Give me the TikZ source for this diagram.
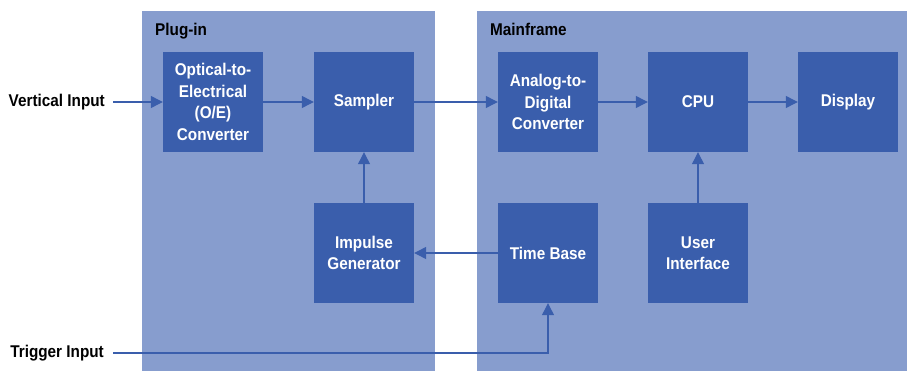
\documentclass[tikz,border=0pt]{standalone}
\usepackage{fontspec}
\setmainfont{Liberation Sans}[FakeStretch=0.9]
\usetikzlibrary{arrows.meta}
\definecolor{panelc}{RGB}{135,157,206}
\definecolor{boxc}{RGB}{58,94,172}
\tikzset{
  blk/.style={draw=none,fill=boxc,minimum width=100pt,minimum height=100pt,inner sep=0pt,
    text=white,font=\bfseries\fontsize{17}{21.5}\selectfont,align=center},
  lbl/.style={font=\bfseries\fontsize{17}{21.5}\selectfont,text=black,inner sep=0pt},
  conn/.style={draw=boxc,line width=1.2pt,-{Triangle[length=12pt,width=12pt]}}
}
\begin{document}
\begin{tikzpicture}[x=1pt,y=-1pt]
\useasboundingbox (0,0) rectangle (907,371);
\fill[white] (0,0) rectangle (907,371);
% panels
\fill[panelc] (142,11) rectangle (435,371);
\fill[panelc] (477,11) rectangle (907,371);
\node[lbl,anchor=base west] (plug) at (155,36) {Plug-in};
\node[lbl,anchor=base west] (main) at (490,36) {Mainframe};
% blocks
\node[blk] (oe) at (213,102) {Optical-to-\\Electrical\\(O/E)\\Converter};
\node[blk] (sam) at (364,102) {Sampler};
\node[blk] (adc) at (548,102) {Analog-to-\\Digital\\Converter};
\node[blk] (cpu) at (698,102) {CPU};
\node[blk] (dis) at (848,102) {Display};
\node[blk] (imp) at (364,253) {Impulse\\Generator};
\node[blk] (tb) at (548,253) {Time Base};
\node[blk] (ui) at (698,253) {User\\Interface};
% inputs
\node[lbl,anchor=east,inner xsep=8pt] (vi) at (113,102) {Vertical Input};
\node[lbl,anchor=east,inner xsep=9pt] (ti) at (113,353) {Trigger Input};
% connectors
\draw[conn] (vi.east) -- (oe.west);
\draw[conn] (oe.east) -- (sam.west);
\draw[conn] (sam.east) -- (adc.west);
\draw[conn] (adc.east) -- (cpu.west);
\draw[conn] (cpu.east) -- (dis.west);
\draw[conn] (imp.north) -- (sam.south);
\draw[conn] (ui.north) -- (cpu.south);
\draw[conn] (tb.west) -- (imp.east);
\draw[conn] (ti.east) -| (tb.south);
\end{tikzpicture}
\end{document}
